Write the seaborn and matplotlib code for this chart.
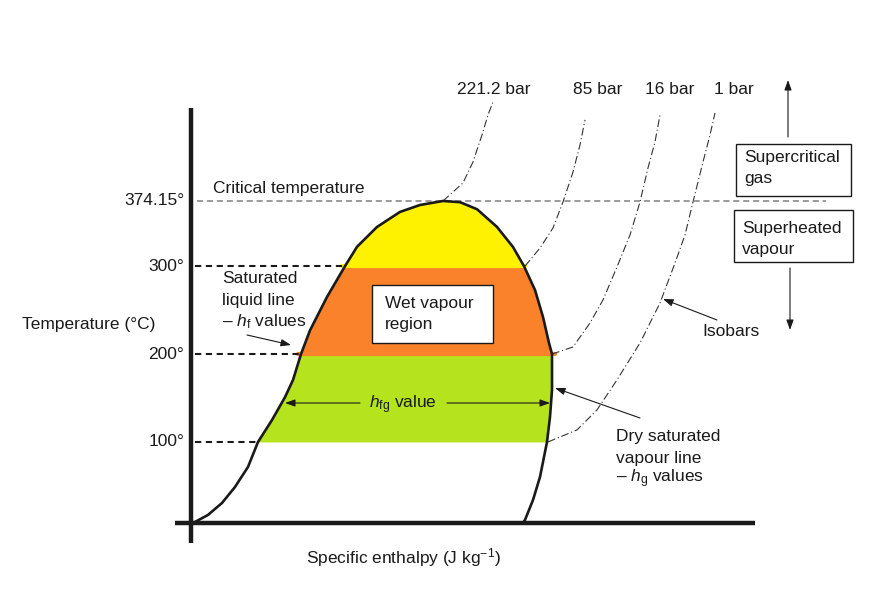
import numpy as np
import matplotlib
matplotlib.use("Agg")
import matplotlib.pyplot as plt
import seaborn as sns
from matplotlib.patches import Rectangle
from matplotlib.transforms import blended_transform_factory

# saturation dome (schematic enthalpy units, temperature in degC)
dome_h = [0, 20, 85, 155, 220, 285, 335, 405, 470, 510, 550, 595, 680, 770, 830, 930,
          1045, 1145, 1260, 1345, 1430, 1530, 1610, 1665, 1720, 1760, 1790, 1805,
          1805, 1795, 1780, 1745, 1710, 1670, 1660]
dome_T = [8, 9, 17, 30.6, 48.8, 71.6, 100, 125, 151, 170.5, 200, 227, 265, 300, 322, 344.6,
          361.7, 369.6, 374.15, 372.8, 364.8, 344.6, 321.8, 300, 272.9, 242.2, 212.6, 200,
          159.2, 128.5, 100, 60.2, 34, 11.3, 8]

# isobars
bar_221_h = [1260, 1360, 1410, 1455, 1485, 1510]
bar_221_T = [374.15, 394.7, 418.6, 449.3, 472.1, 486.8]
bar_85_h = [1670, 1745, 1810, 1860, 1910, 1945, 1970]
bar_85_T = [300, 320.7, 343.5, 373.1, 407.2, 437.9, 466.4]
bar_16_h = [1805, 1910, 1995, 2060, 2130, 2195, 2245, 2285, 2320, 2345]
bar_16_T = [200, 208.1, 235.4, 261.6, 299.1, 335.5, 373.1, 411.8, 441.4, 472.1]
bar_1_h = [1785, 1930, 2030, 2130, 2245, 2345, 2420, 2470, 2510, 2560, 2595, 2620]
bar_1_T = [100, 113.7, 136.5, 170.6, 212.7, 258.1, 303.6, 335.5, 373.1, 418.6, 449.3, 474.3]
isobar_labels = ["221.2 bar", "85 bar", "16 bar", "1 bar"]

tick_T = [374.15, 300, 200, 100]
tick_labels = ["374.15°", "300°", "200°", "100°"]

bands = [(100, 200, "#b5e31e"), (200, 300, "#f9822a"), (300, 374.15, "#fff200")]

sns.set_theme(style="white")
plt.rcParams["font.family"] = ["Liberation Sans", "DejaVu Sans"]
plt.rcParams["mathtext.fontset"] = "custom"
plt.rcParams["mathtext.rm"] = "Liberation Sans"
plt.rcParams["mathtext.it"] = "Liberation Sans:italic"

W, H = 891, 590
fig = plt.figure(figsize=(W / 100, H / 100), dpi=100)
ax = fig.add_axes([0, 0, 1, 1])
ax.set_xlim(-955, 3500)
ax.set_ylim(-68.4, 602.8)
ax.axis("off")

def fp(px, py):
    return (px / W, 1 - py / H)

FS = 12.5
ink = "#1a1a1a"

def lines(px, ys, texts, **kw):
    # ys are the visual centres of capital letters; place on the baseline
    for py, s in zip(ys, texts):
        ax.text(*fp(px, py + 4.5), s, transform=fig.transFigure, ha="left", va="baseline",
                fontsize=FS, color=ink, **kw)

# coloured bands inside the dome
peak = int(np.argmax(dome_T))
left_h, left_T = np.array(dome_h[:peak + 1]), np.array(dome_T[:peak + 1])
right_h, right_T = np.array(dome_h[peak:])[::-1], np.array(dome_T[peak:])[::-1]
for lo, hi, col in bands:
    tg = np.linspace(lo, hi, 300)
    ax.fill_betweenx(tg, np.interp(tg, left_T, left_h), np.interp(tg, right_T, right_h),
                     color=col, lw=0, zorder=1)
ax.plot([535, 1820], [200, 200], color="#f9822a", lw=3, solid_capstyle="round", zorder=1.5)
ax.plot([755, 1672], [300, 300], color="#fff200", lw=3, solid_capstyle="round", zorder=1.5)

# dome outline
sns.lineplot(x=dome_h, y=dome_T, sort=False, estimator=None, color=ink, lw=1.9, ax=ax, zorder=4)

# isobars
for hs, ts in [(bar_221_h, bar_221_T), (bar_85_h, bar_85_T), (bar_16_h, bar_16_T), (bar_1_h, bar_1_T)]:
    sns.lineplot(x=hs, y=ts, sort=False, estimator=None, color="#333333", lw=0.8,
                 linestyle=(0, (7, 2.5, 1, 2.5)), ax=ax, zorder=2)

# reference lines
ax.plot([30, 3175], [374.15, 374.15], color="#808080", lw=1.1, dashes=(4, 2.5), zorder=2)
ax.plot([20, 770], [300, 300], color=ink, lw=1.5, dashes=(3, 2.2), zorder=2)
ax.plot([20, 550], [200, 200], color=ink, lw=1.5, dashes=(3, 2.2), zorder=2)
ax.plot([20, 335], [100, 100], color=ink, lw=1.5, dashes=(3, 2.2), zorder=2)

# axes lines
ax.plot([0, 0], [-15, 480], color=ink, lw=3.2, solid_capstyle="butt", zorder=5)
ax.plot([-80, 2820], [8, 8], color=ink, lw=3.2, solid_capstyle="butt", zorder=5)

# temperature tick labels
tr = blended_transform_factory(fig.transFigure, ax.transData)
for t, lab in zip(tick_T, tick_labels):
    ax.text(184 / W, t, lab, transform=tr, ha="right", va="center", fontsize=FS, color=ink)

ax.text(*fp(22, 325), "Temperature (°C)", transform=fig.transFigure, ha="left", va="center",
        fontsize=FS, color=ink)
ax.text(*fp(404, 558), r"Specific enthalpy (J kg$^{-1}$)", transform=fig.transFigure,
        ha="center", va="center", fontsize=FS, color=ink)
ax.text(*fp(213, 188), "Critical temperature", transform=fig.transFigure, ha="left",
        va="center", fontsize=FS, color=ink)

# isobar labels
for lab, px in zip(isobar_labels, [494, 598, 670, 734]):
    ax.text(*fp(px, 90), lab, transform=fig.transFigure, ha="center", va="center",
            fontsize=FS, color=ink)

# boxes
for (x0, y0, x1, y1) in [(372, 285, 493, 343), (736, 144, 851, 196), (734, 210, 853, 262)]:
    ax.add_patch(Rectangle(fp(x0, y1), (x1 - x0) / W, (y1 - y0) / H, transform=fig.transFigure,
                           facecolor="white", edgecolor=ink, lw=1.0, zorder=6))
lines(385, [303, 324], ["Wet vapour", "region"], zorder=7)
lines(744, [157, 179], ["Supercritical", "gas"], zorder=7)
lines(742, [228, 249], ["Superheated", "vapour"], zorder=7)

lines(222, [279, 300, 322], ["Saturated", "liquid line", "– $h_\\mathrm{f}$ values"])
lines(616, [437, 458, 478], ["Dry saturated", "vapour line", "– $h_\\mathrm{g}$ values"])
lines(702, [332], ["Isobars"])
ax.text(*fp(403, 408), "$h_\\mathrm{fg}$ value", transform=fig.transFigure, ha="center",
        va="baseline", fontsize=FS, color=ink)

# pointer arrows
arrow = dict(arrowstyle="-|>,head_length=0.5,head_width=0.18", color=ink, lw=0.8,
             shrinkA=0, shrinkB=0)
for src, dst in [((247, 335), (291, 345)), ((360, 403), (285, 403)), ((447, 403), (550, 403)),
                 ((717, 320), (663, 299)), ((640, 418), (555, 388)),
                 ((788, 137), (788, 80)), ((790, 268), (790, 330))]:
    ax.annotate("", xy=fp(*dst), xycoords="figure fraction", xytext=fp(*src),
                textcoords="figure fraction", arrowprops=arrow, zorder=8)

fig.savefig("out.png", dpi=100)
